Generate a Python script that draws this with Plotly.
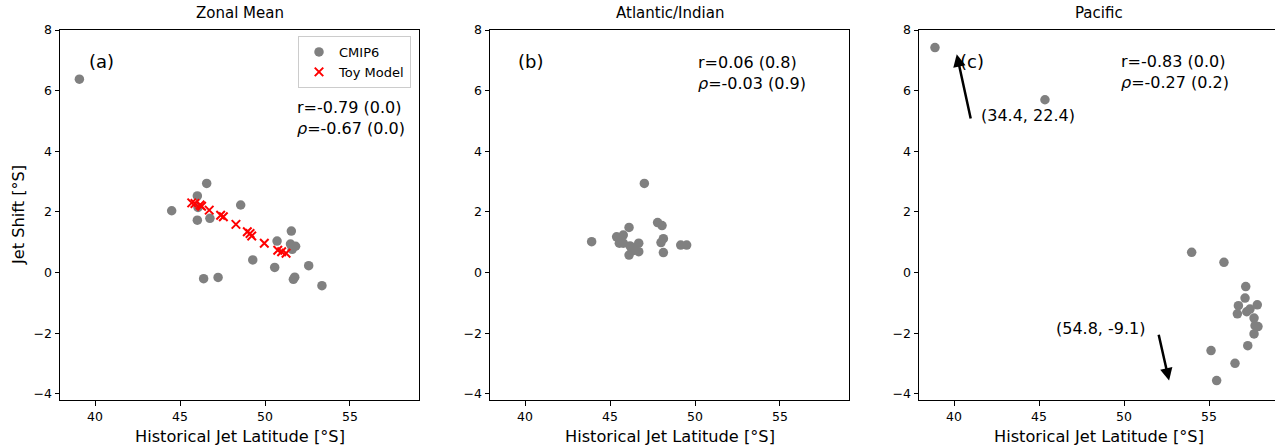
import plotly.graph_objects as go

# ---------------- data ----------------
# Panel (a) Zonal Mean - CMIP6
za_x = [39.08, 44.51, 46.57, 46.02, 46.06, 46.02, 46.76, 48.57, 51.55, 50.71,
        51.50, 51.80, 51.60, 49.28, 50.57, 52.57, 46.39, 47.24, 51.75, 51.67, 53.35]
za_y = [6.38, 2.04, 2.94, 2.53, 2.15, 1.73, 1.79, 2.23, 1.37, 1.04,
        0.94, 0.87, 0.77, 0.42, 0.17, 0.23, -0.20, -0.16, -0.15, -0.22, -0.43]
# Panel (a) Toy model
toy_x = [45.69, 45.88, 46.18, 46.27, 46.72, 47.39, 47.55, 48.29, 48.96, 49.12,
         49.22, 49.96, 50.75, 50.98, 51.24]
toy_y = [2.30, 2.28, 2.23, 2.19, 2.06, 1.89, 1.84, 1.59, 1.35, 1.29,
         1.21, 0.97, 0.74, 0.69, 0.64]
# Panel (b) Atlantic/Indian - CMIP6
ai_x = [47.02, 43.92, 45.39, 45.78, 46.12, 45.55, 45.78, 46.18, 46.12, 46.41,
        46.69, 46.69, 46.30, 47.80, 48.06, 48.14, 48.00, 48.14, 49.16, 49.51]
ai_y = [2.94, 1.02, 1.18, 1.24, 1.49, 0.97, 0.97, 0.88, 0.58, 0.80,
        0.97, 0.69, 0.72, 1.65, 1.55, 1.12, 0.99, 0.66, 0.91, 0.91]
# Panel (c) Pacific - CMIP6
pa_x = [38.88, 45.35, 53.98, 55.88, 57.16, 57.12, 56.73, 56.67, 57.22, 57.41,
        57.84, 57.65, 57.71, 57.65, 57.88, 57.28, 55.12, 56.53, 55.45]
pa_y = [7.42, 5.70, 0.67, 0.34, -0.46, -0.84, -1.09, -1.36, -1.29, -1.20,
        -1.06, -1.50, -1.75, -2.02, -1.78, -2.41, -2.57, -2.99, -3.56]

titles = ["Zonal Mean", "Atlantic/Indian", "Pacific"]
panel_labels = ["(a)", "(b)", "(c)"]
stats = [("-0.79", "0.0", "-0.67", "0.0"),
         ("0.06", "0.8", "-0.03", "0.9"),
         ("-0.83", "0.0", "-0.27", "0.2")]
x_ticks = [40, 45, 50, 55]
y_ticks = [-4, -2, 0, 2, 4, 6, 8]
offplot_labels = ["(34.4, 22.4)", "(54.8, -9.1)"]

# ---------------- layout helpers ----------------
W, H = 1275, 448
FONT = "DejaVu Sans"
GRAY = "#808080"

def px(v):
    return v / W

def py(v):
    return 1 - v / H

fig = go.Figure()

fig.add_trace(go.Scatter(x=za_x, y=za_y, mode="markers", name="CMIP6",
                         marker=dict(color=GRAY, size=9.5), xaxis="x", yaxis="y"))
fig.add_trace(go.Scatter(x=toy_x, y=toy_y, mode="markers", name="Toy Model",
                         marker=dict(color="red", symbol="x-thin", size=8.5,
                                     line=dict(color="red", width=2)),
                         xaxis="x", yaxis="y"))
fig.add_trace(go.Scatter(x=ai_x, y=ai_y, mode="markers", showlegend=False,
                         marker=dict(color=GRAY, size=9.5), xaxis="x2", yaxis="y2"))
fig.add_trace(go.Scatter(x=pa_x, y=pa_y, mode="markers", showlegend=False,
                         marker=dict(color=GRAY, size=9.5), xaxis="x3", yaxis="y3"))

panels = [(60, 419), (490, 849), (919, 1275)]
x_right = [59.06, 59.06, 40 + (1275 - 954) / 17]
ydom = [1 - 400 / H, 1 - 30 / H]

def xax(i):
    l, r = panels[i]
    return dict(domain=[px(l), px(r)], range=[37.94, x_right[i]],
                anchor="y" if i == 0 else f"y{i+1}",
                tickvals=x_ticks, ticks="outside", ticklen=4.5, tickwidth=1,
                tickcolor="black", showline=True, linecolor="black", linewidth=1,
                mirror=True, showgrid=False, zeroline=False,
                tickfont=dict(family=FONT, size=12.5, color="black"), automargin=False)

def yax(i):
    return dict(domain=ydom, range=[-4.2, 8.0],
                anchor="x" if i == 0 else f"x{i+1}",
                tickvals=y_ticks, ticks="outside", ticklen=4.5, tickwidth=1,
                tickcolor="black", showline=True, linecolor="black", linewidth=1,
                mirror=(i != 2), showgrid=False, zeroline=False,
                tickfont=dict(family=FONT, size=12.5, color="black"), automargin=False)

annotations = []
centers = [239.5, 669.5, 1098.5]
for i in range(3):
    annotations.append(dict(text=titles[i], x=px(centers[i]), y=py(13), xref="paper", yref="paper",
                            showarrow=False, xanchor="center", yanchor="middle",
                            font=dict(family=FONT, size=15, color="black")))
    annotations.append(dict(text="Historical Jet Latitude [°S]", x=px(centers[i]), y=py(436),
                            xref="paper", yref="paper", showarrow=False,
                            xanchor="center", yanchor="middle",
                            font=dict(family=FONT, size=16.2, color="black")))

annotations.append(dict(text="Jet Shift [°S]", x=px(18), y=py(215), xref="paper", yref="paper",
                        textangle=-90, showarrow=False, xanchor="center", yanchor="middle",
                        font=dict(family=FONT, size=16.2, color="black")))

label_pos = [(87, 61), (516, 61), (958, 61)]
for i, (lx, ly) in enumerate(label_pos):
    annotations.append(dict(text=panel_labels[i], x=px(lx), y=py(ly), xref="paper", yref="paper",
                            showarrow=False, xanchor="left", yanchor="middle",
                            font=dict(family=FONT, size=18, color="black")))

stat_pos = [(295, 118), (696, 72.5), (1119, 71.5)]
for i, (sx, sy) in enumerate(stat_pos):
    r, rp, rho, rhop = stats[i]
    annotations.append(dict(text=f"r={r} ({rp})<br><i>ρ</i>={rho} ({rhop})",
                            x=px(sx), y=py(sy), xref="paper", yref="paper",
                            showarrow=False, xanchor="left", yanchor="middle", align="left",
                            font=dict(family=FONT, size=16, color="black")))

# arrows in panel (c) pointing to off-plot points
annotations.append(dict(text="", x=40.16, y=7.2, xref="x3", yref="y3",
                        ax=41.0, ay=5.03, axref="x3", ayref="y3", showarrow=True,
                        arrowhead=2, arrowsize=1, arrowwidth=2.5, arrowcolor="black"))
annotations.append(dict(text=offplot_labels[0], x=41.47, y=5.17, xref="x3", yref="y3",
                        showarrow=False, xanchor="left", yanchor="middle",
                        font=dict(family=FONT, size=16, color="black")))
annotations.append(dict(text="", x=52.65, y=-3.56, xref="x3", yref="y3",
                        ax=52.02, ay=-2.0, axref="x3", ayref="y3", showarrow=True,
                        arrowhead=2, arrowsize=1, arrowwidth=2.5, arrowcolor="black"))
annotations.append(dict(text=offplot_labels[1], x=51.39, y=-1.83, xref="x3", yref="y3",
                        showarrow=False, xanchor="right", yanchor="middle",
                        font=dict(family=FONT, size=16, color="black")))

fig.update_layout(
    width=W, height=H, margin=dict(l=0, r=0, t=0, b=0),
    paper_bgcolor="white", plot_bgcolor="white",
    font=dict(family=FONT, color="black"),
    xaxis=xax(0), xaxis2=xax(1), xaxis3=xax(2),
    yaxis=yax(0), yaxis2=yax(1), yaxis3=yax(2),
    legend=dict(x=px(411), xanchor="right", y=py(36), yanchor="top",
                bgcolor="white", bordercolor="#cccccc", borderwidth=1,
                font=dict(family=FONT, size=13, color="black")),
    annotations=annotations,
)

fig.write_html("out.html")
